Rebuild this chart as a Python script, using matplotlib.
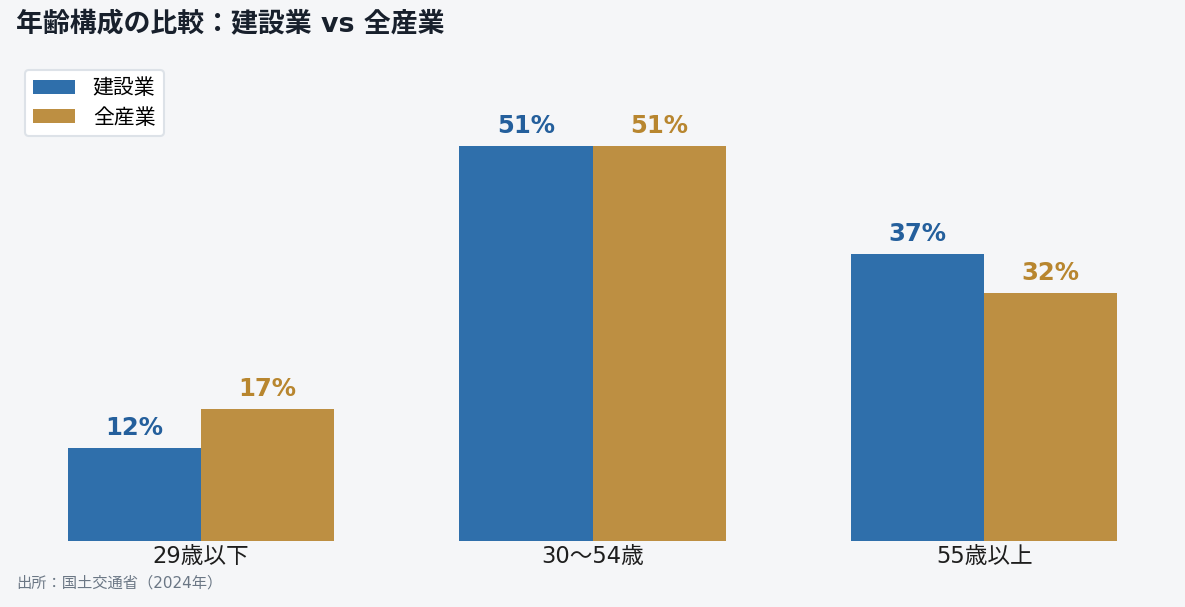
import numpy as np
import matplotlib
matplotlib.use("Agg")
import matplotlib.pyplot as plt

plt.rcParams['font.family'] = ['DejaVu Sans', 'Noto Sans CJK JP']

categories = ["29歳以下", "30～54歳", "55歳以上"]
construction = [12, 51, 37]
all_industries = [17, 51, 32]
series_names = ["建設業", "全産業"]

bg = "#F5F6F8"
blue = "#2F6FAB"
gold = "#BD8F42"

fig = plt.figure(figsize=(11.85, 6.07), dpi=100, facecolor=bg)
# axes placed in pixel terms of the 1185x607 canvas
W, H = 1185, 607
ax = fig.add_axes([5 / W, 1 - 541 / H, 1175 / W, (541 - 60) / H])
ax.set_facecolor(bg)

x = np.arange(len(categories))
w = 0.34
b1 = ax.bar(x - w / 2, construction, w, color=blue, label=series_names[0])
b2 = ax.bar(x + w / 2, all_industries, w, color=gold, label=series_names[1])

for bars, vals, c in [(b1, construction, "#245F9C"), (b2, all_industries, "#B8862F")]:
    for r, v in zip(bars, vals):
        ax.annotate(f"{v}%", (r.get_x() + r.get_width() / 2, r.get_height()),
                    xytext=(0, 6), textcoords="offset points",
                    ha="center", va="bottom", fontsize=17.5, fontweight="bold", color=c)

ax.set_xlim(-0.5, 2.5)
ax.set_ylim(0, (541 - 60) / 7.745)
ax.set_xticks(x)
ax.set_xticklabels(categories, fontsize=16.3, color="#1E1E1E")
ax.tick_params(axis="x", length=0, pad=3)
ax.set_yticks([])
for s in ax.spines.values():
    s.set_visible(False)

leg = ax.legend(loc="upper left", bbox_to_anchor=(25 / W, 1 - 70 / H),
                bbox_transform=fig.transFigure, borderaxespad=0,
                fontsize=15, handlelength=2.0, handleheight=0.65,
                handletextpad=0.85, labelspacing=0.45, borderpad=0.4,
                frameon=True, fancybox=True)
leg.get_frame().set_facecolor("white")
leg.get_frame().set_edgecolor("#DDE2E8")
leg.get_frame().set_linewidth(1.5)
leg.get_frame().set_alpha(1)

fig.text(16 / W, 1 - 25 / H, "年齢構成の比較：建設業 vs 全産業", fontsize=19.4,
         fontweight="bold", color="#18202C", ha="left", va="center")
fig.text(16 / W, 1 - 583 / H, "出所：国土交通省（2024年）", fontsize=11,
         color="#6B7785", ha="left", va="center")

fig.savefig("out.png", dpi=100, facecolor=bg)
